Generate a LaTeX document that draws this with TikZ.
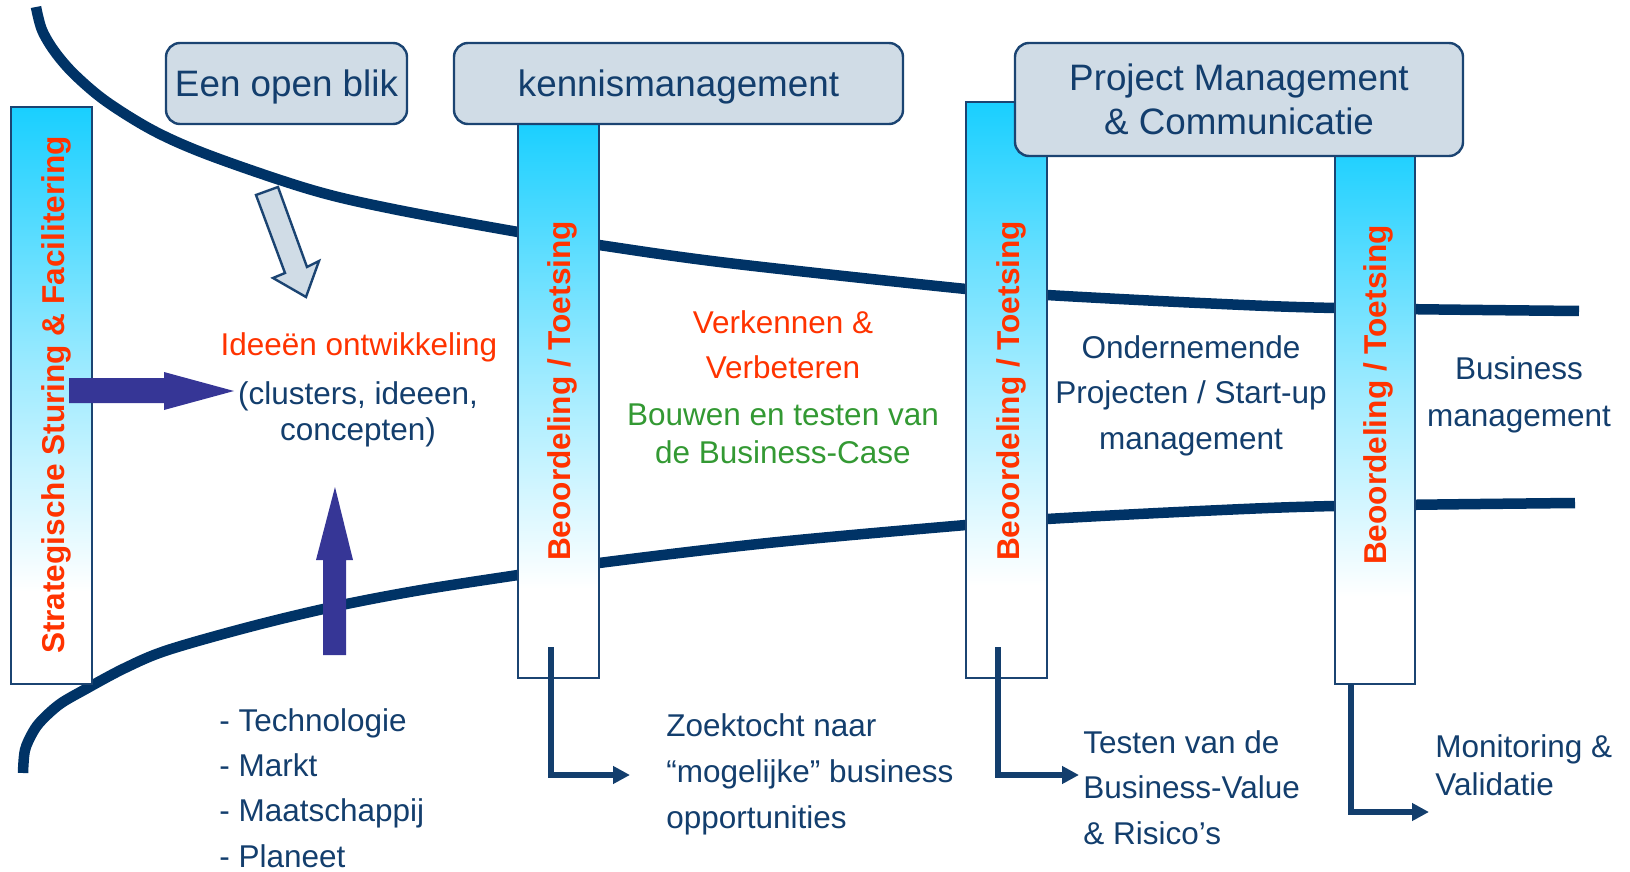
\documentclass[tikz,border=0pt]{standalone}
\usepackage{fontspec}
\setmainfont{Liberation Sans}
\usetikzlibrary{arrows.meta}

\definecolor{navy}{HTML}{003366}
\definecolor{txtblue}{HTML}{133E6D}
\definecolor{accent}{HTML}{FF3300}
\definecolor{leafgreen}{HTML}{339933}
\definecolor{boxfill}{HTML}{D0DCE6}
\definecolor{boxline}{HTML}{1B4472}
\definecolor{indigo}{HTML}{363696}
\definecolor{barcyan}{HTML}{19CFFF}
\colorlet{barmid}{barcyan!42!white}

\pgfdeclareverticalshading{barshade}{100bp}{color(0bp)=(white); color(25bp)=(white); color(33bp)=(white); color(52bp)=(barmid); color(75bp)=(barcyan); color(100bp)=(barcyan)}

\tikzset{
  lblbox/.style={draw=boxline, fill=boxfill, line width=1.2pt, rounded corners=7pt, text=txtblue,
    font=\fontsize{18.4}{22}\selectfont, align=center, inner sep=0pt},
  oneline/.style={text height=13.4pt, text depth=0.8pt},
  bar/.style={shade, shading=barshade, draw=boxline, line width=1pt, minimum width=40.5pt, inner sep=0pt},
  barlbl/.style={rotate=90, text=accent, font=\bfseries\fontsize{15.8}{19}\selectfont, inner sep=0pt},
  body/.style={text=txtblue, font=\fontsize{15.75}{22.5}\selectfont, inner sep=0pt},
  elbow/.style={draw=txtblue, line width=2.75pt, -{Triangle[length=8.5pt,width=8.5pt]}},
  funnel/.style={draw=navy, line width=5.25pt},
}

\begin{document}
\begin{tikzpicture}[x=0.5pt, y=-0.5pt]
\useasboundingbox (0,0) rectangle (1630,872);

% funnel
\draw[funnel] plot[smooth, tension=0.55] coordinates {(36,7) (42,30) (55,52) (75,75) (107,102) (156,132) (214,157) (312,190) (393,209) (518,232) (599,245) (728,263) (966,289) (1047,295) (1200,303) (1335,308) (1579,311)};
\draw[funnel] plot[smooth, tension=0.55] coordinates {(23,773) (25,750) (33,732) (42,720) (60,704) (84,690) (125,668) (168,650) (253,626) (337,606) (421,590) (518,575) (599,563) (768,543) (966,525) (1047,519) (1200,511) (1335,506) (1575,503)};

% bars
\node[bar, minimum height=288.5pt] (strat) at (51.5,395.5) {};
\node[bar, minimum height=279pt] (bar1) at (558.5,399) {};
\node[bar, minimum height=288pt] (bar2) at (1006.5,390) {};
\node[bar, minimum width=40pt, minimum height=272pt] (bar3) at (1375,412) {};

\node[barlbl] (stratlbl) at (56,395) {Strategische Sturing \& Facilitering};
\node[barlbl] (lbl1) at (562,391) {Beoordeling / Toetsing};
\node[barlbl] (lbl2) at (1011,391) {Beoordeling / Toetsing};
\node[barlbl] (lbl3) at (1378,395) {Beoordeling / Toetsing};

% top boxes
\node[lblbox, oneline, minimum width=120.5pt, minimum height=40.5pt] (blik) at (286.5,83.5) {Een open blik};
\node[lblbox, oneline, minimum width=224.5pt, minimum height=40.5pt] (kennis) at (678.5,83.5) {kennismanagement};
\node[lblbox, minimum width=224pt, minimum height=56.5pt] (pm) at (1239,99.5) {Project Management\\\& Communicatie};

% arrows into the idea phase
\filldraw[fill=boxfill, draw=boxline, line width=1.2pt] (256,195) -- (278,187) -- (307,267) -- (319,261) -- (306,297) -- (273,278) -- (285,273) -- cycle;
\fill[indigo] (69,378) -- (164,378) -- (164,372) -- (234,391) -- (164,410) -- (164,403) -- (69,403) -- cycle;
\fill[indigo] (323,655) -- (323,560) -- (316,560) -- (335,487) -- (353,560) -- (346,560) -- (346,655) -- cycle;

% phase texts (multi-line nodes sit on their last baseline)
\node[body, text=accent, anchor=base] (idee) at (359,356) {Ideeën ontwikkeling};
\node[body, anchor=base, align=center, font=\fontsize{15.75}{18}\selectfont] (clusters) at (358,440) {(clusters, ideeen,\\concepten)};
\node[body, anchor=base west, align=left, font=\fontsize{15.75}{22.6}\selectfont] (factors) at (219,867) {- Technologie\\- Markt\\- Maatschappij\\- Planeet};
\node[body, text=accent, anchor=base, align=center, font=\fontsize{15.75}{23}\selectfont] (verken) at (783,379) {Verkennen \&\\Verbeteren};
\node[body, text=leafgreen, anchor=base, align=center, font=\fontsize{15.75}{19}\selectfont] (bouwen) at (783,463) {Bouwen en testen van\\de Business-Case};
\node[body, anchor=base, align=center, font=\fontsize{15.75}{22.75}\selectfont] (onder) at (1191,449) {Ondernemende\\Projecten / Start-up\\management};
\node[body, anchor=base, align=center, font=\fontsize{15.75}{23.5}\selectfont] (busman) at (1519,426) {Business\\management};

% outputs
\node[body, anchor=base west, align=left, font=\fontsize{15.75}{23}\selectfont] (zoek) at (666,828) {Zoektocht naar\\“mogelijke” business\\opportunities};
\node[body, anchor=base west, align=left, font=\fontsize{15.75}{22.75}\selectfont] (testen) at (1083,844) {Testen van de\\Business-Value\\\& Risico’s};
\node[body, anchor=base west, align=left, font=\fontsize{15.75}{19}\selectfont] (monitor) at (1435,795) {Monitoring \&\\Validatie};

\coordinate (e1a) at (551,647);
\coordinate (e1b) at (630,775);
\coordinate (e2a) at (998,647);
\coordinate (e2b) at (1079,775);
\coordinate (e3a) at (1351,684);
\coordinate (e3b) at (1429,812);
\draw[elbow] (e1a) |- (e1b);
\draw[elbow] (e2a) |- (e2b);
\draw[elbow] (e3a) |- (e3b);
\end{tikzpicture}
\end{document}
